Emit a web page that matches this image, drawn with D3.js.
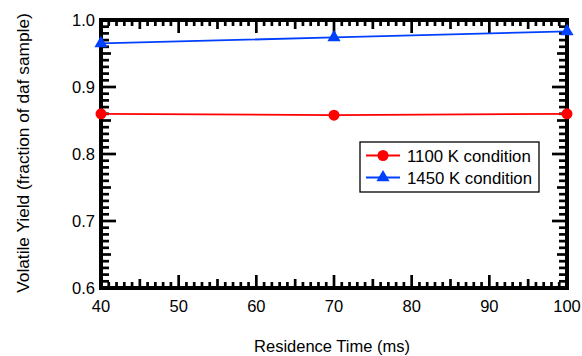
<!DOCTYPE html>
<html>
<head>
<meta charset="utf-8">
<script src="https://cdn.jsdelivr.net/npm/d3@7"></script>
<style>
  body { margin: 0; background: #fff; }
  text { font-family: "Liberation Sans", Arial, sans-serif; fill: #000; }
</style>
</head>
<body>
<div id="chart"></div>
<script>
const times = [40, 70, 100];
const yield_1100 = [0.860, 0.858, 0.860];
const yield_1450 = [0.965, 0.974, 0.983];
const series_names = ["1100 K condition", "1450 K condition"];
const x_ticks = [40, 50, 60, 70, 80, 90, 100];
const y_ticks = [0.6, 0.7, 0.8, 0.9, 1.0];

const width = 582, height = 356;
const margin = { left: 101, right: 15, top: 20, bottom: 68 };

const svg = d3.select("#chart").append("svg")
    .attr("width", width).attr("height", height);

const x = d3.scaleLinear().domain([40, 100])
    .range([margin.left, width - margin.right]);
const y = d3.scaleLinear().domain([0.6, 1.0])
    .range([height - margin.bottom, margin.top]);

// tick length by position: major / medium / minor
const tick_len = (i, lens) => {
    if (i % 10 === 0) return lens[0];
    if (i % 5 === 0) return lens[1];
    return lens[2];
};
const x_minor = d3.range(40, 101, 1);
const y_minor = d3.range(0, 41, 1).map((i) => ({ i: i, v: 0.6 + i * 0.01 }));
const x_lens = [13, 9, 6];
const y_lens = [15, 10, 8];

const ticks = svg.append("g").attr("stroke", "#000").attr("stroke-width", 2.7);
x_minor.forEach((v) => {
    const len = tick_len(v - 40, x_lens);
    ticks.append("line").attr("x1", x(v)).attr("x2", x(v))
        .attr("y1", y(0.6)).attr("y2", y(0.6) - len);
    ticks.append("line").attr("x1", x(v)).attr("x2", x(v))
        .attr("y1", y(1.0)).attr("y2", y(1.0) + len);
});
y_minor.forEach((d) => {
    const len = tick_len(d.i, y_lens);
    ticks.append("line").attr("y1", y(d.v)).attr("y2", y(d.v))
        .attr("x1", x(40)).attr("x2", x(40) + len);
    ticks.append("line").attr("y1", y(d.v)).attr("y2", y(d.v))
        .attr("x1", x(100)).attr("x2", x(100) - len);
});

// frame
svg.append("rect")
    .attr("x", x(40)).attr("y", y(1.0))
    .attr("width", x(100) - x(40)).attr("height", y(0.6) - y(1.0))
    .attr("fill", "none").attr("stroke", "#000").attr("stroke-width", 4);

// tick labels
svg.append("g").selectAll("text").data(x_ticks).join("text")
    .attr("x", (d) => x(d)).attr("y", y(0.6) + 24)
    .attr("text-anchor", "middle").attr("font-size", 16.5)
    .text((d) => d);
svg.append("g").selectAll("text").data(y_ticks).join("text")
    .attr("x", x(40) - 6).attr("y", (d) => y(d) + 6)
    .attr("text-anchor", "end").attr("font-size", 16.5)
    .text((d) => d3.format(".1f")(d));

// axis titles
svg.append("text")
    .attr("x", 332).attr("y", 352)
    .attr("text-anchor", "middle").attr("font-size", 16.5)
    .text("Residence Time (ms)");
svg.append("text")
    .attr("transform", "translate(29,153) rotate(-90)")
    .attr("text-anchor", "middle").attr("font-size", 17.3)
    .text("Volatile Yield (fraction of daf sample)");

// series
const line = d3.line().x((d) => x(d[0])).y((d) => y(d[1]));
const red_pts = times.map((t, i) => [t, yield_1100[i]]);
const blue_pts = times.map((t, i) => [t, yield_1450[i]]);

svg.append("path").datum(red_pts).attr("d", line)
    .attr("fill", "none").attr("stroke", "#ff0000").attr("stroke-width", 1.8);
svg.append("path").datum(blue_pts).attr("d", line)
    .attr("fill", "none").attr("stroke", "#0040ff").attr("stroke-width", 1.8);

const tri = d3.symbol().type(d3.symbolTriangle).size(75);
svg.append("g").selectAll("circle").data(red_pts).join("circle")
    .attr("cx", (d) => x(d[0])).attr("cy", (d) => y(d[1])).attr("r", 5.5)
    .attr("fill", "#ff0000");
svg.append("g").selectAll("path").data(blue_pts).join("path")
    .attr("d", tri)
    .attr("transform", (d) => `translate(${x(d[0])},${y(d[1])})`)
    .attr("fill", "#0040ff");

// legend
const lg = svg.append("g").attr("transform", "translate(360,142)");
lg.append("rect").attr("width", 179).attr("height", 50)
    .attr("fill", "#fff").attr("stroke", "#000").attr("stroke-width", 1.3);
const colors = ["#ff0000", "#0040ff"];
series_names.forEach((name, i) => {
    const cy = 13.5 + i * 22;
    lg.append("line").attr("x1", 6).attr("x2", 40).attr("y1", cy).attr("y2", cy)
        .attr("stroke", colors[i]).attr("stroke-width", 1.8);
    if (i === 0) {
        lg.append("circle").attr("cx", 23).attr("cy", cy).attr("r", 5.5).attr("fill", colors[i]);
    } else {
        lg.append("path").attr("d", tri)
            .attr("transform", `translate(23,${cy})`).attr("fill", colors[i]);
    }
    lg.append("text").attr("x", 47).attr("y", cy + 6)
        .attr("font-size", 16.8).text(name);
});
</script>
</body>
</html>
